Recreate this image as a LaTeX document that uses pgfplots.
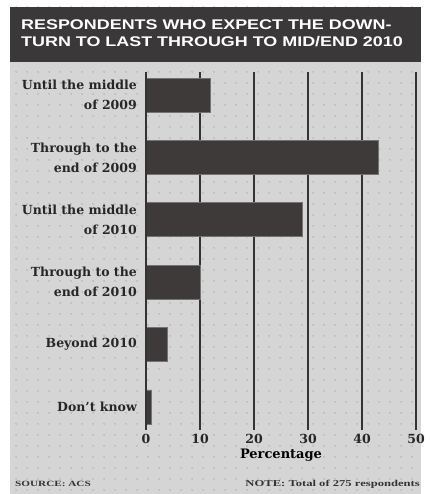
\documentclass[border=0pt]{standalone}
\usepackage{pgfplots}
\pgfplotsset{compat=1.18}
\usepackage{fontspec}
\setmainfont{DejaVu Serif}
\newfontfamily\titlefont{Liberation Sans}
\newfontfamily\notefont{Liberation Serif}
\usetikzlibrary{patterns.meta}
\definecolor{panel}{HTML}{D5D5D5}
\definecolor{dotc}{HTML}{ABABAB}
\definecolor{band}{HTML}{3A3838}
\definecolor{barc}{HTML}{3E3A3A}
\tikzdeclarepattern{
  name=softdots,
  type=uncolored,
  bounding box={(0,0) and (11pt,11pt)},
  tile size={(11pt,11pt)},
  code={\fill (5.5pt,5.5pt) circle (0.9pt);}
}
\begin{document}
\begin{tikzpicture}
\begin{scope}[x=1pt,y=1pt,shift={(-146pt,-64pt)}]
\path[use as bounding box] (0,0) rectangle (429,494);
\fill[white] (0,0) rectangle (429,494);
\fill[panel] (10,0) rectangle (421,487);
\fill[pattern={softdots}, pattern color=dotc] (10,0) rectangle (421,487);
\fill[band] (10,432) rectangle (421,487);
\node[anchor=west, text=white, inner sep=0pt] at (21,459.5) {\scalebox{1.28}[1]{\titlefont\bfseries\fontsize{14}{17}\selectfont\begin{tabular}{@{}l@{}}RESPONDENTS WHO EXPECT THE DOWN-\\TURN TO LAST THROUGH TO MID/END 2010\end{tabular}}};
\node[anchor=west, text=black!80, inner sep=0pt] at (15,10) {\scalebox{1.4}[1]{\notefont\bfseries\fontsize{8}{9}\selectfont SOURCE: ACS}};
\node[anchor=east, text=black!80, inner sep=0pt] at (420,10) {\scalebox{1.4}[1]{\notefont\bfseries\fontsize{9}{10}\selectfont NOTE: Total of 275 respondents}};
\end{scope}
\begin{axis}[
  scale only axis, width=270pt, height=358pt,
  xbar, bar width=34pt,
  xmin=0, xmax=50,
  ymin=-0.37, ymax=5.37, y dir=reverse,
  axis line style={draw=none},
  xtick={0,10,20,30,40,50},
  ytick={0,1,2,3,4,5},
  yticklabels={{Until the middle\\of 2009},{Through to the\\end of 2009},{Until the middle\\of 2010},{Through to the\\end of 2010},{Beyond 2010},{Don't know}},
  yticklabel style={align=right, font=\bfseries\fontsize{12.5}{20}\selectfont, text=black!85, inner sep=0pt, xshift=-9pt},
  xticklabel style={font=\bfseries\fontsize{12.5}{14}\selectfont, text=black!85, inner sep=1pt, yshift=-3pt},
  /pgf/number format/assume math mode=true,
  major tick length=0pt,
  xmajorgrids, grid style={draw=black!80, line width=1.3pt},
  xlabel={Percentage}, xlabel style={font=\bfseries\fontsize{13}{14}\selectfont, yshift=-1pt},
  clip=false,
]
\addplot[fill=barc, draw=black!55, line width=0.7pt] coordinates {(12,0) (43,1) (29,2) (10,3) (4,4) (1,5)};
\draw[black!80, line width=1.3pt] (axis cs:0,-0.37) -- (axis cs:0,5.37);
\end{axis}
\end{tikzpicture}
\end{document}
